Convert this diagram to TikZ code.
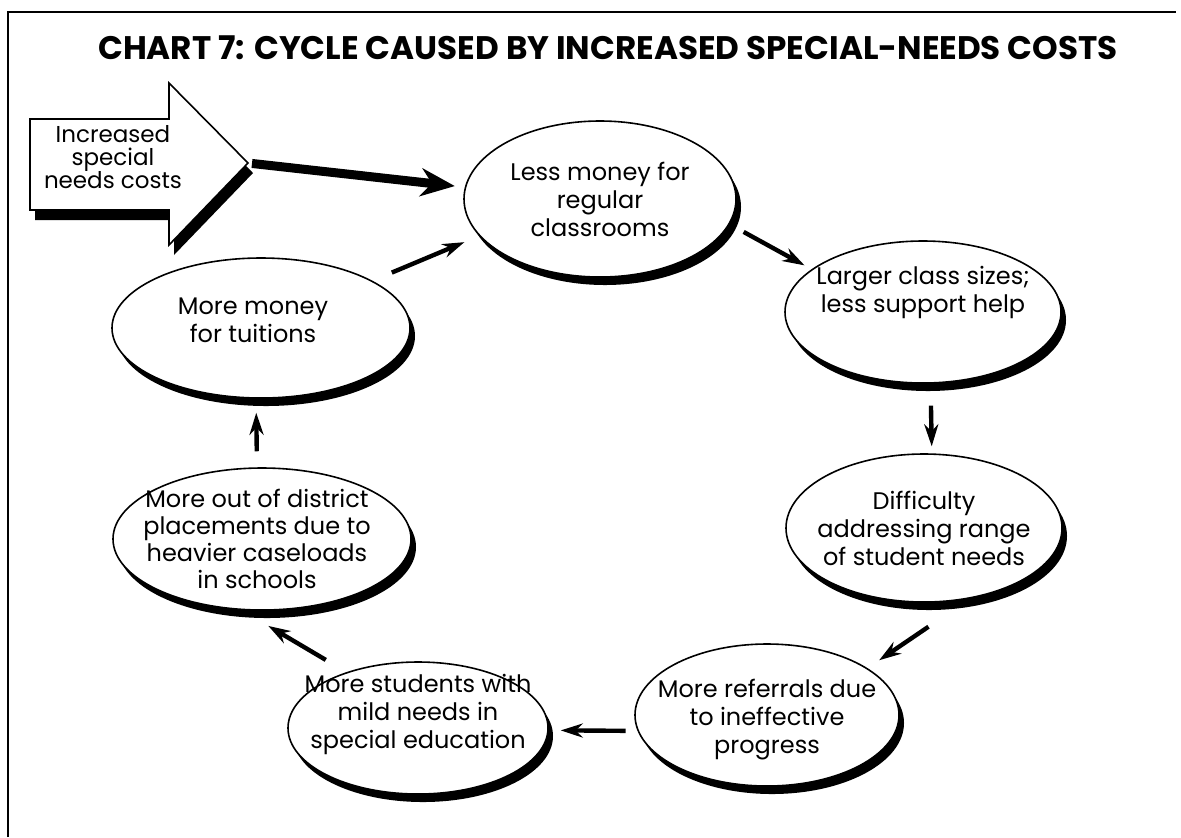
\documentclass[tikz,border=0pt]{standalone}
\usepackage{fontspec}
\setmainfont{Poppins}
\usetikzlibrary{shapes.geometric,arrows.meta,shadows}

\tikzset{
    bubble/.style={ellipse, draw, line width=0.8pt, fill=white, inner sep=0pt,
        drop shadow={shadow xshift=2.5pt, shadow yshift=-4pt, opacity=1, fill=black}},
    txt/.style={align=center, font=\fontsize{12}{14}\selectfont},
    arr/.style={line width=2.2pt, -{Stealth[length=11pt, width=7pt]}},
    bigarr/.style={line width=4.5pt, -{Stealth[length=17pt, width=14pt]}},
}

\begin{document}
\begin{tikzpicture}[x=0.5pt, y=-0.5pt]
\useasboundingbox (0,0) rectangle (1181,837);

    \draw[line width=1.1pt] (8,837) -- (8,12) -- (1176,12);
    \node[font=\fontsize{16.3}{18}\selectfont\bfseries] (title) at (608,48) {CHART 7: CYCLE CAUSED BY INCREASED SPECIAL-NEEDS COSTS};

    % input arrow
    \fill[shift={(5,10)}] (30,119) -- (169,119) -- (169,83) -- (248,163) -- (169,245) -- (169,210) -- (30,210) -- cycle;
    \draw[line width=0.8pt, fill=white] (30,119) -- (169,119) -- (169,83) -- (248,163) -- (169,245) -- (169,210) -- (30,210) -- cycle;
    \coordinate (tip) at (248,163);
    \node[txt, font=\fontsize{11.5}{11.5}\selectfont] (cost) at (113,157) {Increased\\special\\needs costs};

    % the cycle
    \node[bubble, minimum width=136pt, minimum height=78pt] (money) at (600,199) {};
    \node[bubble, minimum width=138pt, minimum height=71pt] (class) at (923,312) {};
    \node[bubble, minimum width=138pt, minimum height=74pt] (range) at (924,528) {};
    \node[bubble, minimum width=132pt, minimum height=71pt] (referral) at (767,715) {};
    \node[bubble, minimum width=130pt, minimum height=66pt] (mild) at (418,728) {};
    \node[bubble, minimum width=149pt, minimum height=71pt] (outof) at (262,539) {};
    \node[bubble, minimum width=149pt, minimum height=70pt] (tuition) at (261,328) {};

    \node[txt] (moneytxt) at (money) {Less money for\\regular\\classrooms};
    \node[txt, yshift=10pt] (classtxt) at (class) {Larger class sizes;\\less support help};
    \node[txt] (rangetxt) at (range) {Difficulty\\addressing range\\of student needs};
    \node[txt, yshift=-2.5pt] (referraltxt) at (referral) {More referrals due\\to ineffective\\progress};
    \node[txt, yshift=7pt] (mildtxt) at (mild) {More students with\\mild needs in\\special education};
    \node[txt, xshift=-2.5pt, font=\fontsize{12}{13.4}\selectfont] (outoftxt) at (outof) {More out of district\\placements due to\\heavier caseloads\\in schools};
    \node[txt, xshift=-4pt, yshift=4pt] (tuitiontxt) at (tuition) {More money\\for tuitions};

    \draw[bigarr, shorten <=2pt, shorten >=5pt] (tip) -- (money.175);
    \draw[arr, shorten <=10.5pt, shorten >=8pt] (tuition.23) -- (money.197);
    \draw[arr, shorten <=8pt, shorten >=4pt] (money.-11) -- (class.159);
    \draw[arr, shorten <=11pt, shorten >=3.5pt] (class.-84) -- (range.84);
    \draw[arr, shorten <=25pt, shorten >=7pt] (range.-57) -- (referral.25);
    \draw[arr, shorten <=6pt, shorten >=6pt] (referral.187) -- (mild.-1);
    \draw[arr, shorten <=12pt, shorten >=15.5pt] (mild.142) -- (outof.254);
    \draw[arr, shorten <=8pt, shorten >=7pt] (outof.94) -- (tuition.-94);

\end{tikzpicture}
\end{document}
